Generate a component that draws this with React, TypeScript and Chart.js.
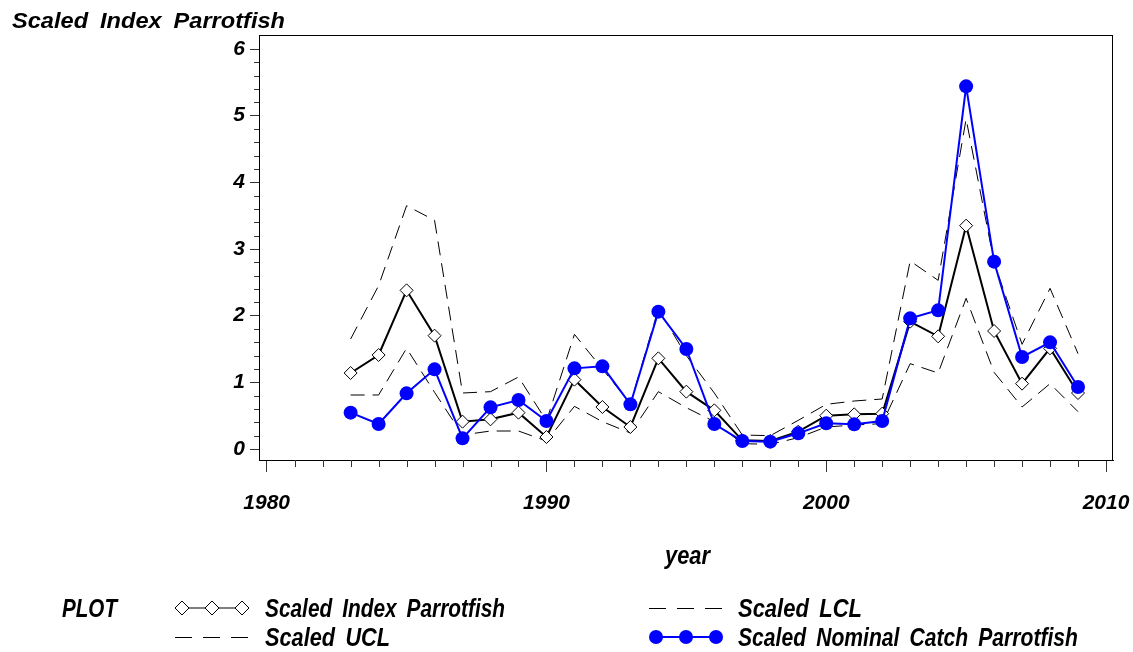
import React, { useEffect, useRef } from 'react';
import { Chart, registerables } from 'chart.js';

Chart.register(...registerables);

// ---- data ----
const years = [
  1983, 1984, 1985, 1986, 1987, 1988, 1989, 1990, 1991, 1992, 1993, 1994, 1995,
  1996, 1997, 1998, 1999, 2000, 2001, 2002, 2003, 2004, 2005, 2006, 2007, 2008, 2009,
];
const scaledIndex = [
  1.14, 1.41, 2.38, 1.7, 0.41, 0.445, 0.545, 0.18, 1.04, 0.63, 0.33, 1.36, 0.86,
  0.58, 0.13, 0.12, 0.26, 0.5, 0.52, 0.53, 1.91, 1.69, 3.35, 1.77, 0.98, 1.51, 0.84,
];
const scaledUCL = [
  1.65, 2.45, 3.65, 3.43, 0.84, 0.86, 1.08, 0.42, 1.72, 1.2, 0.68, 2.1, 1.4,
  0.84, 0.21, 0.2, 0.43, 0.67, 0.72, 0.75, 2.82, 2.53, 4.95, 2.8, 1.57, 2.41, 1.43,
];
const scaledLCL = [
  0.81, 0.81, 1.51, 0.85, 0.21, 0.27, 0.27, 0.12, 0.64, 0.41, 0.24, 0.86, 0.62,
  0.41, 0.08, 0.07, 0.17, 0.33, 0.36, 0.38, 1.28, 1.14, 2.26, 1.15, 0.63, 0.98, 0.56,
];
const nominalCatch = [
  0.545, 0.375, 0.835, 1.195, 0.16, 0.625, 0.735, 0.42, 1.21, 1.24, 0.67, 2.06, 1.5,
  0.375, 0.12, 0.11, 0.235, 0.385, 0.37, 0.42, 1.96, 2.08, 5.44, 2.81, 1.38, 1.6, 0.93,
];
const xMajorTicks = [1980, 1990, 2000, 2010];
const yMajorTicks = [0, 1, 2, 3, 4, 5, 6];

const SANS = '"Liberation Sans", Arial, sans-serif';
const BLUE = '#0000ff';

// draw text so that it spans exactly `width` px starting at x (horizontal scale)
function fitText(ctx: any, text: string, x: number, y: number, width: number, font: string, wordSpacing: string) {
  ctx.save();
  ctx.font = font;
  ctx.wordSpacing = wordSpacing;
  ctx.letterSpacing = '0px';
  ctx.textAlign = 'left';
  ctx.textBaseline = 'alphabetic';
  const w = ctx.measureText(text).width;
  ctx.translate(x, y);
  ctx.scale(width / w, 1);
  ctx.fillText(text, 0, 0);
  ctx.restore();
}

export default function App() {
  const ref = useRef<HTMLCanvasElement>(null);

  useEffect(() => {
    const canvas = ref.current;
    if (!canvas) return;
    const pts = (vals: number[]) => years.map((x, i) => ({ x, y: vals[i] }));

    const sasPlugin = {
      id: 'sasDecor',
      afterDraw(chart: any) {
        const { ctx, chartArea: a, scales } = chart;
        const xs = scales.x;
        const ys = scales.y;
        ctx.save();
        // frame
        ctx.strokeStyle = '#000';
        ctx.lineWidth = 1;
        ctx.strokeRect(a.left + 0.5, a.top + 0.5, a.right - a.left - 1, a.bottom - a.top);
        // minor ticks
        ctx.strokeStyle = '#333';
        ctx.beginPath();
        for (let yr = 1980; yr <= 2010; yr++) {
          if (yr % 10 === 0) continue;
          const px = Math.round(xs.getPixelForValue(yr)) + 0.5;
          ctx.moveTo(px, a.bottom);
          ctx.lineTo(px, a.bottom + 7);
        }
        for (let k = 0; k <= 30; k++) {
          if (k % 5 === 0) continue;
          const py = Math.round(ys.getPixelForValue(k / 5)) + 0.5;
          ctx.moveTo(a.left, py);
          ctx.lineTo(a.left - 5, py);
        }
        ctx.stroke();

        // texts
        ctx.fillStyle = '#000';
        fitText(ctx, 'Scaled Index Parrotfish', 12, 28, 273, `italic bold 22px ${SANS}`, '5px');
        const lf = `italic bold 25px ${SANS}`;
        fitText(ctx, 'year', 665, 564, 45, lf, '0px');

        // legend
        const r1 = 608;
        const r2 = 637;
        fitText(ctx, 'PLOT', 62, r1 + 9, 55, lf, '0px');
        fitText(ctx, 'Scaled Index Parrotfish', 265, r1 + 9, 240, lf, '5px');
        fitText(ctx, 'Scaled UCL', 265, r2 + 9, 125, lf, '5px');
        fitText(ctx, 'Scaled LCL', 738, r1 + 9, 124, lf, '5px');
        fitText(ctx, 'Scaled Nominal Catch Parrotfish', 738, r2 + 9, 340, lf, '5px');

        // legend symbols
        ctx.strokeStyle = '#555';
        ctx.lineWidth = 1.5;
        ctx.beginPath();
        ctx.moveTo(182, r1);
        ctx.lineTo(242, r1);
        ctx.stroke();
        ctx.strokeStyle = '#000';
        ctx.lineWidth = 1;
        for (const cx of [182, 212, 242]) {
          ctx.beginPath();
          ctx.moveTo(cx, r1 - 7);
          ctx.lineTo(cx + 7, r1);
          ctx.lineTo(cx, r1 + 7);
          ctx.lineTo(cx - 7, r1);
          ctx.closePath();
          ctx.fillStyle = '#fff';
          ctx.fill();
          ctx.stroke();
        }
        ctx.setLineDash([17, 11]);
        ctx.beginPath();
        ctx.moveTo(175, r2 + 0.5);
        ctx.lineTo(249, r2 + 0.5);
        ctx.moveTo(649, r1 + 0.5);
        ctx.lineTo(723, r1 + 0.5);
        ctx.stroke();
        ctx.setLineDash([]);
        ctx.strokeStyle = BLUE;
        ctx.fillStyle = BLUE;
        ctx.lineWidth = 2;
        ctx.beginPath();
        ctx.moveTo(656, r2);
        ctx.lineTo(716, r2);
        ctx.stroke();
        for (const cx of [656, 686, 716]) {
          ctx.beginPath();
          ctx.arc(cx, r2, 7, 0, Math.PI * 2);
          ctx.fill();
        }
        ctx.restore();
      },
    };

    const zeroPad = (s: any) => {
      s.paddingLeft = 0;
      s.paddingRight = 0;
      s.paddingTop = 0;
      s.paddingBottom = 0;
    };

    const chart = new Chart(canvas, {
      type: 'line',
      data: {
        datasets: [
          {
            label: 'Scaled Nominal Catch Parrotfish',
            data: pts(nominalCatch),
            borderColor: BLUE,
            backgroundColor: BLUE,
            borderWidth: 2,
            pointStyle: 'circle',
            pointRadius: 7,
            pointBorderWidth: 0,
            pointBackgroundColor: BLUE,
            tension: 0,
            order: 0,
          },
          {
            label: 'Scaled Index Parrotfish',
            data: pts(scaledIndex),
            borderColor: '#000',
            borderWidth: 2,
            pointStyle: 'rectRot',
            pointRadius: 6.5,
            pointBorderWidth: 1,
            pointBorderColor: '#000',
            pointBackgroundColor: '#fff',
            tension: 0,
            order: 1,
          },
          {
            label: 'Scaled UCL',
            data: pts(scaledUCL),
            borderColor: '#000',
            borderWidth: 1,
            borderDash: [14, 8],
            pointRadius: 0,
            tension: 0,
            order: 2,
          },
          {
            label: 'Scaled LCL',
            data: pts(scaledLCL),
            borderColor: '#000',
            borderWidth: 1,
            borderDash: [14, 8],
            pointRadius: 0,
            tension: 0,
            order: 3,
          },
        ],
      },
      options: {
        responsive: false,
        animation: false,
        devicePixelRatio: 1,
        layout: { padding: { left: 209, right: 20, top: 35, bottom: 122 } },
        plugins: { legend: { display: false }, tooltip: { enabled: false } },
        scales: {
          x: {
            type: 'linear',
            position: 'bottom',
            bounds: 'data',
            min: 1979.725,
            max: 2010.25,
            afterBuildTicks: (s: any) => {
              s.ticks = xMajorTicks.map((v) => ({ value: v }));
            },
            afterFit: (s: any) => {
              s.height = 70;
              zeroPad(s);
            },
            ticks: {
              autoSkip: false,
              maxRotation: 0,
              padding: 19,
              color: '#000',
              font: { family: SANS, size: 21, style: 'italic', weight: 'bold' },
              callback: (v: any) => String(v),
            },
            grid: { drawOnChartArea: false, drawTicks: true, tickLength: 12, color: '#333' },
            border: { display: true, color: '#000' },
          },
          y: {
            type: 'linear',
            position: 'left',
            bounds: 'data',
            min: -0.165,
            max: 6.21,
            afterBuildTicks: (s: any) => {
              s.ticks = yMajorTicks.map((v) => ({ value: v }));
            },
            afterFit: (s: any) => {
              s.width = 50;
              zeroPad(s);
            },
            ticks: {
              autoSkip: false,
              padding: 5,
              color: '#000',
              font: { family: SANS, size: 21, style: 'italic', weight: 'bold' },
              callback: (v: any) => String(v),
            },
            grid: { drawOnChartArea: false, drawTicks: true, tickLength: 9, color: '#333' },
            border: { display: true, color: '#000' },
          },
        },
      },
      plugins: [sasPlugin],
    });

    return () => chart.destroy();
  }, []);

  return (
    <div style={{ position: 'absolute', left: 0, top: 0, width: 1133, height: 652, background: '#fff' }}>
      <canvas ref={ref} width={1133} height={652} style={{ display: 'block', width: 1133, height: 652 }} />
    </div>
  );
}
